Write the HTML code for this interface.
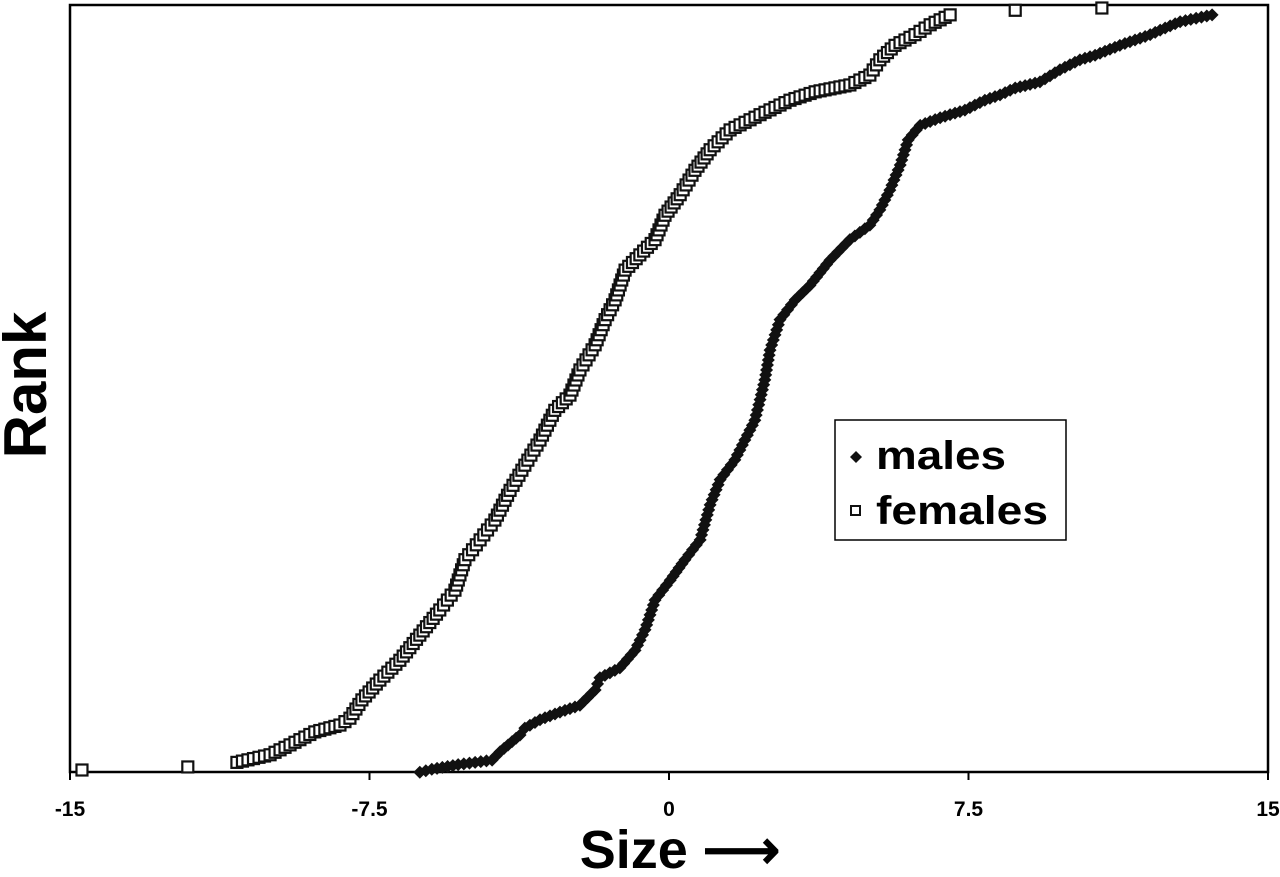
<!DOCTYPE html>
<html><head><meta charset="utf-8"><style>
html,body{margin:0;padding:0;background:#fff;}
svg{display:block;font-family:"Liberation Sans",Arial,sans-serif;}
</style></head><body>
<svg id="chart" width="1280" height="877" viewBox="0 0 1280 877" xmlns="http://www.w3.org/2000/svg">
<rect x="70" y="5" width="1198" height="767" fill="#fff" stroke="#000" stroke-width="2.5"/>
<g id="ticks"></g>
<g id="marks"></g>
<text x="680" y="868" text-anchor="middle" font-size="54" font-weight="bold">Size ⟶</text>
<text transform="translate(46,385) rotate(-90)" text-anchor="middle" font-size="60" font-weight="bold">Rank</text>
<g>
<rect x="835" y="420" width="231" height="120" fill="#fff" stroke="#000" stroke-width="1.5"/>
<g>
<polygon points="856,451 862,457 856,463 850,457" fill="#111"/>
<text x="876" y="469" font-size="40" font-weight="bold" textLength="130" lengthAdjust="spacingAndGlyphs">males</text>
</g>
<g>
<rect x="851" y="506" width="9" height="9" fill="#fff" stroke="#111" stroke-width="2"/>
<text x="876" y="524" font-size="40" font-weight="bold" textLength="172" lengthAdjust="spacingAndGlyphs">females</text>
</g>
</g>
</svg>
<script>
const tickValues = [-15, -7.5, 0, 7.5, 15];
const tickLabels = ["-15", "-7.5", "0", "7.5", "15"];
const femaleSize = [-14.70,-12.05,-10.82,-9.99,-9.49,-8.87,-8.24,-7.99,-7.69,-7.24,-6.74,-6.24,-5.74,-5.36,-5.11,-4.73,-4.36,-3.98,-3.61,-3.23,-2.86,-2.48,-2.23,-1.85,-1.60,-1.35,-1.10,-0.73,-0.35,-0.10,0.28,0.65,1.03,1.53,2.28,3.03,3.66,4.53,5.03,5.28,5.66,6.16,6.54,7.04,8.67,10.84];
const femaleRank = [0,0.4,1.0,2.0,3.3,5.0,5.9,6.8,9.2,11.8,14.4,17.7,21.0,23.6,27.6,30.2,32.8,36.7,40.0,43.3,47.2,49.2,52.5,55.8,59.1,61.7,65.6,67.6,69.6,72.8,75.5,78.7,81.4,84.0,86.0,87.9,89.0,89.9,91.2,93.2,95.1,96.5,97.8,99.1,99.7,100];
const maleSize = [-6.24,-5.94,-5.28,-4.43,-4.23,-3.73,-3.61,-3.23,-2.73,-2.23,-1.85,-1.73,-1.23,-0.85,-0.60,-0.35,0.03,0.40,0.78,1.03,1.28,1.65,1.90,2.15,2.28,2.40,2.53,2.78,3.16,3.53,4.03,4.53,5.03,5.28,5.53,5.79,5.99,6.29,6.79,7.41,7.91,8.29,8.67,9.29,9.79,10.29,10.67,11.29,12.05,12.30,12.80,13.60];
const maleRank = [-0.3,0.1,0.7,1.3,2.4,4.6,5.5,6.6,7.6,8.5,10.5,12.1,13.4,15.7,18.4,22.3,24.9,27.6,30.2,34.8,38.1,40.7,43.3,45.9,48.6,51.2,55.1,59.1,61.7,63.6,66.9,69.6,71.5,73.5,76.1,79.4,82.7,84.6,85.6,86.6,87.9,88.6,89.5,90.3,91.9,93.2,93.8,95.1,96.5,97.1,98.2,99.1];

const NS = "http://www.w3.org/2000/svg";
const X0 = 70, X1 = 1268, YB = 770, YT = 8;
function xScale(v){ return X0 + (v + 15) / 30 * (X1 - X0); }
function yScale(r){ return YB - r / 100 * (YB - YT); }

const ticks = document.getElementById('ticks');
tickValues.forEach((v, i) => {
  const x = xScale(v);
  const t = document.createElementNS(NS, 'line');
  t.setAttribute('x1', x); t.setAttribute('x2', x);
  t.setAttribute('y1', 772); t.setAttribute('y2', 780);
  t.setAttribute('stroke', '#000'); t.setAttribute('stroke-width', '2');
  
  
  ticks.appendChild(t);
  const lb = document.createElementNS(NS, 'text');
  lb.setAttribute('x', x); lb.setAttribute('y', 816);
  lb.setAttribute('text-anchor', 'middle');
  lb.setAttribute('font-size', '21'); lb.setAttribute('font-weight', 'bold');
  lb.textContent = tickLabels[i];
  
  
  ticks.appendChild(lb);
});

const marks = document.getElementById('marks');
function drawMarker(kind, x, y, dataName){
  let el;
  if (kind === 'square') {
    el = document.createElementNS(NS, 'rect');
    el.setAttribute('x', x - 5.5); el.setAttribute('y', y - 5.5);
    el.setAttribute('width', 11); el.setAttribute('height', 11);
    el.setAttribute('fill', '#fff'); el.setAttribute('stroke', '#111'); el.setAttribute('stroke-width', '2.2');
  } else {
    el = document.createElementNS(NS, 'polygon');
    el.setAttribute('points', `${x},${y-6.5} ${x+6.5},${y} ${x},${y+6.5} ${x-6.5},${y}`);
    el.setAttribute('fill', '#111');
  }
  
  
  marks.appendChild(el);
}
function drawSeries(sizes, ranks, kind, name){
  for (let i = 0; i < sizes.length; i++) {
    const x = xScale(sizes[i]), y = yScale(ranks[i]);
    if (i > 0) {
      const px = xScale(sizes[i-1]), py = yScale(ranks[i-1]);
      const d = Math.hypot(x - px, y - py);
      if (d < 38) {
        const n = Math.floor(d / 5);
        for (let k = 1; k < n; k++) {
          drawMarker(kind, px + (x - px) * k / n, py + (y - py) * k / n, name + '-fill');
        }
      }
    }
    drawMarker(kind, x, y, name + '-point');
  }
}
drawSeries(femaleSize, femaleRank, 'square', 'female');
drawSeries(maleSize, maleRank, 'diamond', 'male');
</script>
</body></html>
